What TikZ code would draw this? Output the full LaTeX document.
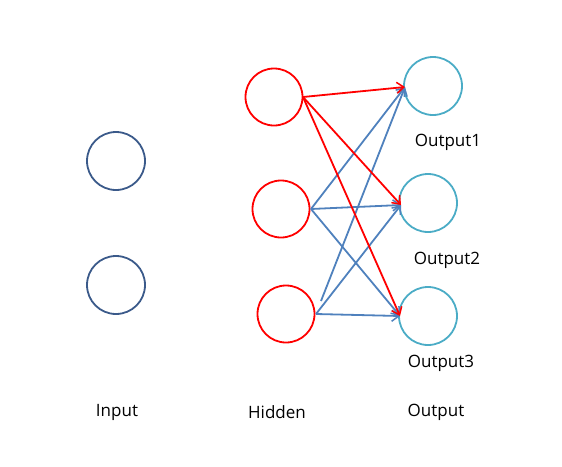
\documentclass[tikz,border=0pt]{standalone}
\usepackage{fontspec}
\setmainfont{Open Sans}
\usetikzlibrary{arrows.meta}
\definecolor{inblue}{HTML}{3B5A8A}
\definecolor{hidred}{HTML}{FF0000}
\definecolor{outcyan}{HTML}{4BACC6}
\definecolor{arrblue}{HTML}{4F81BD}
\begin{document}
\begin{tikzpicture}[x=1pt,y=-1pt,
  neuron/.style={circle,draw,line width=1.8pt,minimum size=58pt,inner sep=0pt},
  innode/.style={neuron,draw=inblue},
  hidnode/.style={neuron,draw=hidred,minimum size=57pt},
  outnode/.style={neuron,draw=outcyan},
  lab/.style={font=\fontsize{17}{20}\selectfont,text=black,inner sep=0pt},
  redarr/.style={draw=hidred,line width=1.8pt,-{Straight Barb[length=7pt,width=11pt,line width=1.5pt]}},
  bluearr/.style={draw=arrblue,line width=1.8pt,-{Straight Barb[length=7pt,width=11pt,line width=1.5pt]}}]
\useasboundingbox (0,0) rectangle (562,466);
\node[innode] (i1) at (116,161) {};
\node[innode] (i2) at (116,285) {};
\node[hidnode] (h1) at (274,97) {};
\node[hidnode] (h2) at (281,209) {};
\node[hidnode] (h3) at (286,314) {};
\node[outnode] (o1) at (433,86) {};
\node[outnode] (o2) at (428,203) {};
\node[outnode] (o3) at (428,316) {};
\coordinate (h1s) at (303,97);
\coordinate (h2s) at (311,209);
\coordinate (h3s) at (316,314);
\coordinate (h3t) at (321,301);
\coordinate (o1e) at (405,87);
\coordinate (o2e) at (401,205);
\coordinate (o3e) at (400,316);
\draw[bluearr] (h2s) -- (o1e);
\draw[bluearr] (h2s) -- (o2e);
\draw[bluearr] (h2s) -- (o3e);
\draw[bluearr] (h3t) -- (o1e);
\draw[bluearr] (h3s) -- (o2e);
\draw[bluearr] (h3s) -- (o3e);
\draw[redarr] (h1s) -- (o1e);
\draw[redarr] (h1s) -- (o2e);
\draw[redarr] (h1s) -- (o3e);
\node[lab] (l1) at (448,142) {Output1};
\node[lab] (l2) at (447,260) {Output2};
\node[lab] (l3) at (441,363) {Output3};
\node[lab] (li) at (117,412) {Input};
\node[lab] (lh) at (277,412) {Hidden};
\node[lab] (lo) at (436,412) {Output};
\end{tikzpicture}
\end{document}
